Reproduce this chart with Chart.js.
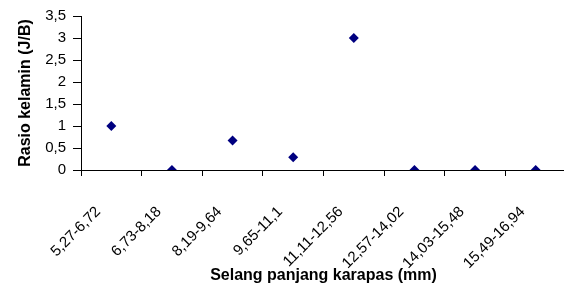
<!DOCTYPE html>
<html>
<head>
<meta charset="utf-8">
<script src="https://cdn.jsdelivr.net/npm/chart.js@4"></script>
<style>
  html, body { margin: 0; padding: 0; background: #fff; overflow: hidden; }
  #wrap { position: relative; width: 572px; height: 295px; }
</style>
</head>
<body>
<div id="wrap"><canvas id="chart"></canvas></div>
<script>
// Sex ratio (J/B) per carapace length class
const classes = ['5,27-6,72', '6,73-8,18', '8,19-9,64', '9,65-11,1', '11,11-12,56', '12,57-14,02', '14,03-15,48', '15,49-16,94'];
const ratios = [1, 0, 0.67, 0.29, 3, 0, 0, 0];
const yTicks = [0, 0.5, 1, 1.5, 2, 2.5, 3, 3.5];

const fontFamily = "'Liberation Sans', Arial, sans-serif";

new Chart(document.getElementById('chart'), {
  type: 'line',
  data: {
    labels: classes,
    datasets: [{
      label: 'Rasio kelamin',
      data: ratios,
      showLine: false,
      pointStyle: 'rectRot',
      pointRadius: 5,
      pointHoverRadius: 5,
      backgroundColor: '#000080',
      borderColor: '#000080',
      borderWidth: 0
    }]
  },
  options: {
    responsive: true,
    maintainAspectRatio: false,
    animation: false,
    layout: { padding: { top: 10, right: 6, bottom: 6, left: 0 } },
    plugins: { legend: { display: false }, tooltip: { enabled: false } },
    scales: {
      x: {
        offset: true,
        grid: { display: true, offset: true, drawOnChartArea: false, tickLength: 6, color: '#000' },
        border: { color: '#000', width: 1 },
        ticks: {
          color: '#000', font: { family: fontFamily, size: 15 },
          minRotation: 45, maxRotation: 45, padding: 27, labelOffset: -13, autoSkip: false
        },
        title: {
          display: true, text: 'Selang panjang karapas (mm)', color: '#000',
          font: { family: fontFamily, size: 16, weight: 'bold' }, padding: { top: 4, bottom: 4 }
        },
        // fixed axis box so the plot area keeps the reference size
        afterFit: (s) => { s.height = 119; s.paddingLeft = 0; s.paddingRight = 0; }
      },
      y: {
        min: 0, max: 3.5,
        afterBuildTicks: (s) => { s.ticks = yTicks.map(v => ({ value: v })); },
        grid: { display: true, drawOnChartArea: false, tickLength: 8, color: '#000' },
        border: { color: '#000', width: 1 },
        ticks: {
          color: '#000', font: { family: fontFamily, size: 15 }, padding: 7,
          callback: (v) => String(v).replace('.', ',')
        },
        title: {
          display: true, text: 'Rasio kelamin (J/B)', color: '#000',
          font: { family: fontFamily, size: 16, weight: 'bold' }, padding: { top: 16, bottom: 4 }
        },
        afterFit: (s) => { s.width = 81; }
      }
    }
  }
});
</script>
</body>
</html>
